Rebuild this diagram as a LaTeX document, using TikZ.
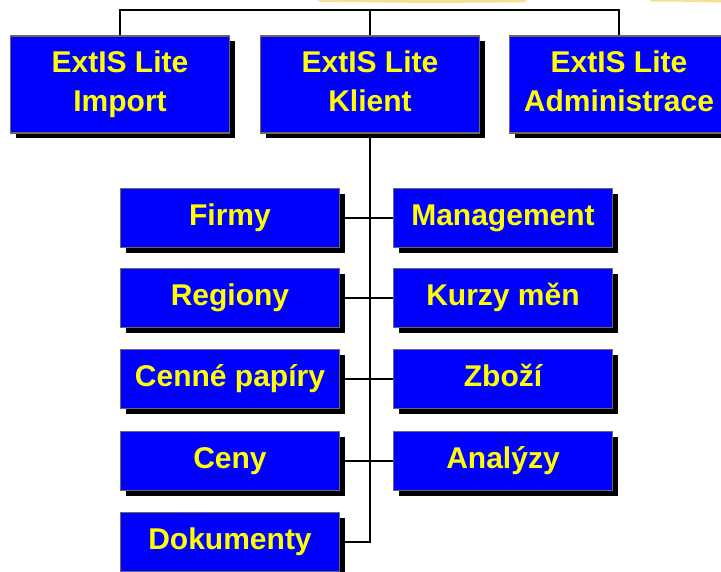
\documentclass[tikz,border=0pt]{standalone}
\usepackage{fontspec}
\setmainfont{Liberation Sans}
\usetikzlibrary{shadows}
\definecolor{extblue}{RGB}{0,0,255}
\definecolor{extyellow}{RGB}{255,255,0}
\definecolor{boxgray}{RGB}{110,104,96}
\definecolor{swash}{RGB}{246,208,96}
\newcommand\modulfont{\fontsize{30}{38.5}\selectfont\bfseries}

\begin{document}
\begin{tikzpicture}[x=1pt,y=-1pt,
	modul/.style={draw=boxgray, line width=1.5pt, fill=extblue, text=extyellow, font=\modulfont, align=center, inner sep=0pt, minimum width=219pt,
		drop shadow={shadow xshift=5pt, shadow yshift=-5pt, fill=black, opacity=1}},
	hlavni/.style={modul, minimum height=97pt},
	cast/.style={modul, minimum height=59pt},
	spoj/.style={line width=1.6pt, black}]
	\useasboundingbox (0,0) rectangle (721,571);
	% zbytek ozdobneho tahu nahore
	\fill[swash, opacity=.7] (317,0) -- (527,0) -- (524,2.3) -- (430,3) -- (360,2.2) -- (320,1.8) -- cycle;
	\fill[swash, opacity=.7] (650,0) -- (721,0) -- (721,2.4) -- (690,1.8) -- (652,1.5) -- cycle;
	% moduly
	\node[hlavni] (import) at (120,84.5) {\strut ExtIS Lite\\\strut Import};
	\node[hlavni] (klient) at (370,84.5) {\strut ExtIS Lite\\\strut Klient};
	\node[hlavni] (admin) at (619,84.5) {\strut ExtIS Lite\\\strut Administrace};
	\coordinate (rozcesti) at (370,10);
	% casti klienta
	\node[cast] (firmy) at (230,218) {\strut Firmy};
	\node[cast] (regiony) at (230,298) {\strut Regiony};
	\node[cast] (papiry) at (230,379) {\strut Cenné papíry};
	\node[cast] (ceny) at (230,461) {\strut Ceny};
	\node[cast] (dokumenty) at (230,542) {\strut Dokumenty};
	\node[cast] (management) at (503,218) {\strut Management};
	\node[cast] (kurzy) at (503,298) {\strut Kurzy měn};
	\node[cast] (zbozi) at (503,379) {\strut Zboží};
	\node[cast] (analyzy) at (503,461) {\strut Analýzy};
	% spojnice
	\draw[spoj] (import.north) |- (rozcesti) -| (admin.north);
	\draw[spoj] (klient.north) -- (rozcesti);
	\draw[spoj] (klient.south) -- (klient.south |- dokumenty.east) -- (dokumenty.east);
	\draw[spoj] (firmy.east) -- (management.west);
	\draw[spoj] (regiony.east) -- (kurzy.west);
	\draw[spoj] (papiry.east) -- (zbozi.west);
	\draw[spoj] (ceny.east) -- (analyzy.west);
\end{tikzpicture}
\end{document}
